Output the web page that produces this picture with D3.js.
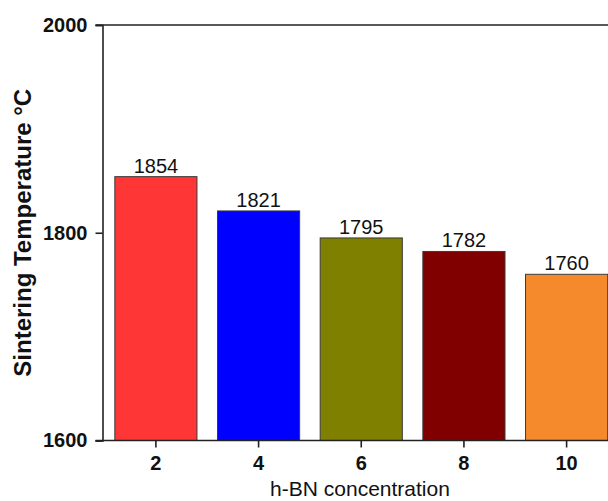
<!DOCTYPE html>
<html>
<head>
<meta charset="utf-8">
<script src="https://cdn.jsdelivr.net/npm/d3@7"></script>
<style>
  html, body { margin: 0; padding: 0; background: #fff; }
  svg { display: block; }
  text { font-family: "Liberation Sans", Arial, sans-serif; }
</style>
</head>
<body>
<svg id="chart" width="608" height="501"></svg>
<script>
// ---- data ----
const categories = ["2", "4", "6", "8", "10"];
const temperatures = [1854, 1821, 1795, 1782, 1760];
const barColors = ["#FF3636", "#0000FF", "#808000", "#800000", "#F48A2C"];
const yTicks = [1600, 1800, 2000];
const yDomain = [1600, 2000];
const xTitle = "h-BN concentration";
const yTitle = "Sintering Temperature °C";

// ---- layout ----
const svg = d3.select("#chart");
const plotLeft = 102.5, plotTop = 25, plotBottom = 440.5;

const x = d3.scaleBand()
  .domain(categories)
  .range([plotLeft, 620])
  .paddingInner(0.2)
  .paddingOuter(0.12);

const y = d3.scaleLinear().domain(yDomain).range([plotBottom, plotTop]);

// bars
svg.append("g").selectAll("rect")
  .data(categories)
  .join("rect")
  .attr("x", d => x(d))
  .attr("width", x.bandwidth())
  .attr("y", (d, i) => y(temperatures[i]))
  .attr("height", (d, i) => y(yDomain[0]) - y(temperatures[i]))
  .attr("fill", (d, i) => barColors[i])
  .attr("stroke", "#3a3a3a")
  .attr("stroke-width", 1);

// value labels
svg.append("g").selectAll("text")
  .data(categories)
  .join("text")
  .attr("x", d => x(d) + x.bandwidth() / 2)
  .attr("y", (d, i) => y(temperatures[i]) - 4)
  .attr("text-anchor", "middle")
  .attr("font-size", 20)
  .attr("fill", "#111")
  .text((d, i) => temperatures[i]);

// y axis
const yAxis = svg.append("g")
  .attr("transform", `translate(${plotLeft},0)`)
  .call(d3.axisLeft(y).tickValues(yTicks).tickSize(7).tickPadding(8).tickFormat(d3.format("d")));
yAxis.select(".domain").attr("stroke", "#222").attr("stroke-width", 1.6);
yAxis.selectAll(".tick line").attr("stroke", "#222").attr("stroke-width", 1.6);
yAxis.selectAll(".tick text")
  .attr("font-size", 20).attr("font-weight", "bold").attr("fill", "#111")
  .attr("font-family", "'Liberation Sans', Arial, sans-serif");

// x axis
const xAxis = svg.append("g")
  .attr("transform", `translate(0,${plotBottom})`)
  .call(d3.axisBottom(x).tickSize(7).tickPadding(8).tickSizeOuter(0));
xAxis.select(".domain").attr("stroke", "#222").attr("stroke-width", 1.6)
  .attr("d", `M${plotLeft - 7},0H608`);
xAxis.selectAll(".tick line").attr("stroke", "#222").attr("stroke-width", 1.6);
xAxis.selectAll(".tick text")
  .attr("font-size", 20).attr("font-weight", "bold").attr("fill", "#111")
  .attr("font-family", "'Liberation Sans', Arial, sans-serif");

// top frame line
svg.append("line")
  .attr("x1", plotLeft - 7).attr("x2", 608)
  .attr("y1", y(yDomain[1])).attr("y2", y(yDomain[1]))
  .attr("stroke", "#222").attr("stroke-width", 1.6);

// axis titles
svg.append("text")
  .attr("x", 360)
  .attr("y", 496)
  .attr("text-anchor", "middle")
  .attr("font-size", 21)
  .attr("fill", "#111")
  .text(xTitle);

svg.append("text")
  .attr("transform", `translate(30.5,${(plotTop + plotBottom) / 2}) rotate(-90)`)
  .attr("text-anchor", "middle")
  .attr("font-size", 24)
  .attr("font-weight", "bold")
  .attr("fill", "#111")
  .text(yTitle);
</script>
</body>
</html>
